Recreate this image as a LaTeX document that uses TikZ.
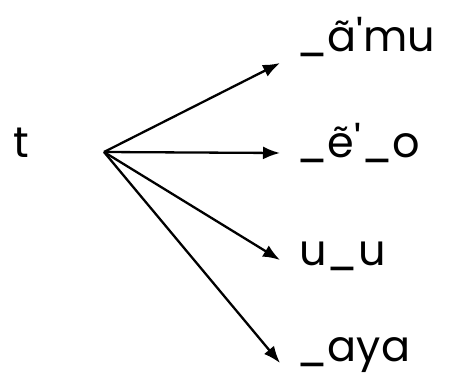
\documentclass[tikz,border=0pt]{standalone}
\usepackage{fontspec}
\setmainfont{Poppins}
\usetikzlibrary{arrows.meta}

\begin{document}
\begin{tikzpicture}[x=1pt,y=1pt]

    % Rahmen
    \useasboundingbox (0,0) rectangle (457,381);

    \tikzset{
        wort/.style={anchor=base west, inner sep=0pt, font=\fontsize{43}{52}\selectfont},
        pfeil/.style={line width=2.3pt, -{Latex[length=17pt,width=13pt]}}
    }

    % Ausgangslaut
    \node[wort] (t) at (13,224) {t};
    \coordinate (o) at (104,229);

    % Fortsetzungen
    \node[wort] (amu) at (296,329) {\_ã\textquotesingle mu};
    \node[wort] (eo)  at (296,224) {\_ẽ\textquotesingle\_o};
    \node[wort] (uu)  at (299,116) {u\_u};
    \node[wort] (aya) at (296,20)  {\_aya};

    % Pfeile
    \draw[pfeil] (o) -- ([xshift=-16pt,yshift=-11pt]amu.base west);
    \draw[pfeil] (o) -- ([xshift=-16pt,yshift=4pt]eo.base west);
    \draw[pfeil] (o) -- ([xshift=-19pt,yshift=5pt]uu.base west);
    \draw[pfeil] (o) -- ([xshift=-16pt,yshift=-2pt]aya.base west);

\end{tikzpicture}
\end{document}
